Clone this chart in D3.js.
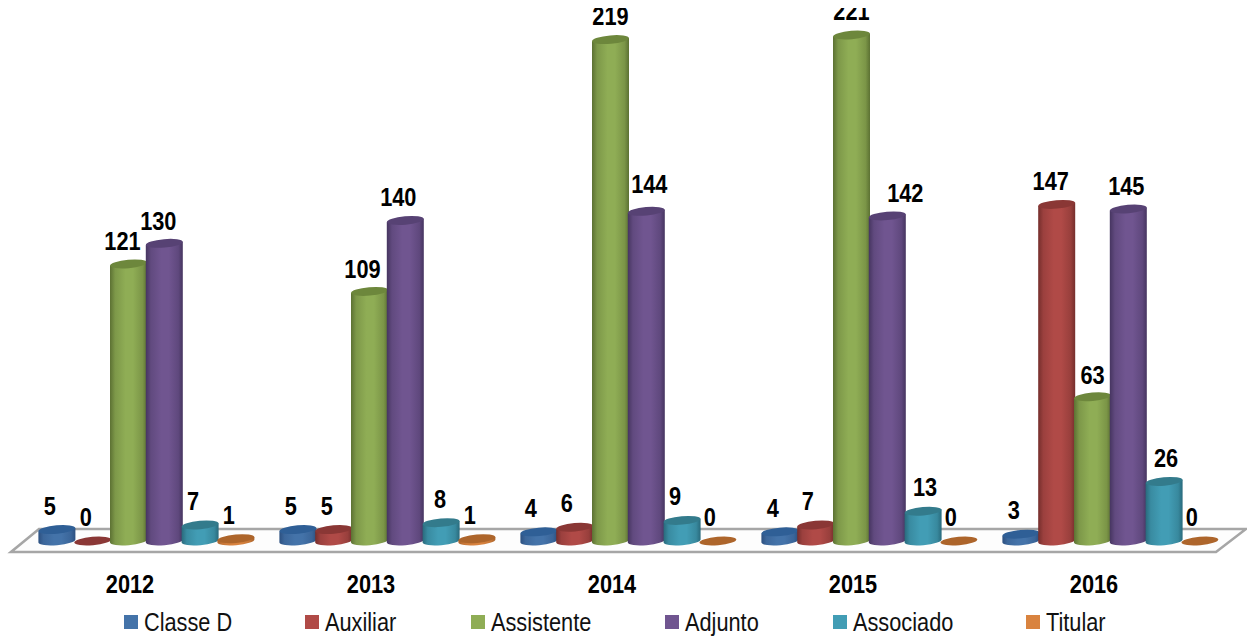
<!DOCTYPE html>
<html><head><meta charset="utf-8">
<style>html,body{margin:0;padding:0;background:#fff;overflow:hidden}svg{display:block}</style>
<script src="https://cdnjs.cloudflare.com/ajax/libs/d3/7.8.5/d3.min.js"></script>
</head><body><svg id="c" width="1247" height="641"></svg>
<script>
const years = ["2012","2013","2014","2015","2016"];
const seriesNames = ["Classe D","Auxiliar","Assistente","Adjunto","Associado","Titular"];
const classeD = [5,5,4,4,3];
const auxiliar = [0,5,6,7,147];
const assistente = [121,109,219,221,63];
const adjunto = [130,140,144,142,145];
const associado = [7,8,9,13,26];
const titular = [1,1,0,0,0];
const seriesValues = [classeD,auxiliar,assistente,adjunto,associado,titular];

// styles per series: mid colour, edge colour, cap colour
const mids = ["#4473a9","#b04a47","#8fad55","#705590","#429db5","#d9833f"];
const edges = ["#2c5080","#752e2c","#5c7133","#463560","#296a7c","#a8622a"];
const caps = ["#2f5f96","#8a3735","#6d873c","#574274","#337b8c","#ad652b"];
const legendX = [124,305,471,665,833,1026];
// hand-placed data-label offsets [dx, dy] per series, per year
const labelDx = [[-7,-7,-8,-7,-7],[-7,-7,-8,-8,-6],[-6,-7,0,0,0],[-6,-7,3,18,-2],[-7,-1,-7,2,2],[-7,-7,-8,-8,-8]];
const labelDy = [[15,15,15,15,15],[15,15,15,15,14],[14,13,15,15,13],[13,14,18,14,14],[15,15,15,15,14],[15,15,15,15,15]];

const svg = d3.select("#c");
const W = 1247, H = 641;
const y = d3.scaleLinear().domain([0,221]).range([541,35]);
const x0 = d3.scaleBand().domain(years).range([39,39+1205]);
const x1 = d3.scaleBand().domain(seriesNames).range([0,214.8]);
const r = x1.bandwidth()/2+0.6, ry = 4.2, tiltDeg = -5;
const sk = r*Math.sin(-tiltDeg*Math.PI/180);
const font = "'Liberation Sans',Arial,sans-serif";
const narrow = 0.87;

const defs = svg.append("defs");
seriesNames.forEach((s,i)=>{
  const g = defs.append("linearGradient").attr("id","g"+i).attr("x1",0).attr("x2",1).attr("y1",0).attr("y2",0);
  [[0,edges[i]],[0.14,d3.interpolateRgb(edges[i],mids[i])(0.65)],[0.42,mids[i]],[0.62,mids[i]],[0.88,d3.interpolateRgb(edges[i],mids[i])(0.6)],[1,edges[i]]]
    .forEach(([o,c])=>g.append("stop").attr("offset",o).attr("stop-color",c));
});
defs.append("clipPath").attr("id","clipTop").append("rect").attr("x",0).attr("y",8).attr("width",W).attr("height",H-8);

// floor
svg.append("path").attr("d","M11,552L1216,552L1246,529L39,529Z")
  .attr("fill","#fdfdfd").attr("stroke","#a6a6a6").attr("stroke-width",2.6).attr("stroke-linejoin","miter");

// cylinders
const marks = svg.append("g");
years.forEach((yr,yi)=>{
  seriesNames.forEach((s,si)=>{
    const v = seriesValues[si][yi];
    const cx = x0(yr)+x1(s)+x1.bandwidth()/2;
    const yb = y(0), yt = y(v);
    if(v>0){
      marks.append("path")
        .attr("d",`M${cx-r},${yb+sk}L${cx-r},${yt+sk}L${cx+r},${yt-sk}L${cx+r},${yb-sk}A${r},${ry} ${tiltDeg} 0 1 ${cx-r},${yb+sk}Z`)
        .attr("fill",`url(#g${si})`);
    }
    marks.append("ellipse").attr("rx",r).attr("ry",ry)
      .attr("transform",`translate(${cx},${yt}) rotate(${tiltDeg})`)
      .attr("fill",caps[si]);
  });
});

// data labels
const labels = svg.append("g").attr("clip-path","url(#clipTop)");
years.forEach((yr,yi)=>{
  seriesNames.forEach((s,si)=>{
    const v = seriesValues[si][yi];
    const cx = x0(yr)+x1(s)+x1.bandwidth()/2;
    labels.append("text")
      .attr("transform",`translate(${cx+labelDx[si][yi]},${y(v)-labelDy[si][yi]}) scale(${narrow},1)`)
      .attr("text-anchor","middle").attr("font-family",font).attr("font-weight","bold")
      .attr("font-size",25).attr("fill","#000").text(v);
  });
});

// category labels
svg.append("g").selectAll("text").data(years).join("text")
  .attr("transform",d=>`translate(${x0(d)+91},593) scale(${narrow},1)`).attr("text-anchor","middle")
  .attr("font-family",font).attr("font-weight","bold").attr("font-size",25).attr("fill","#000").text(d=>d);

// legend
const lg = svg.append("g").selectAll("g").data(seriesNames).join("g")
  .attr("transform",(d,i)=>`translate(${legendX[i]},615)`);
lg.append("rect").attr("width",14).attr("height",14).attr("fill",(d,i)=>mids[i]);
lg.append("text").attr("transform",`translate(20,16) scale(${narrow},1)`).attr("font-family",font).attr("font-size",25).attr("fill","#111").text(d=>d);
</script></body></html>
